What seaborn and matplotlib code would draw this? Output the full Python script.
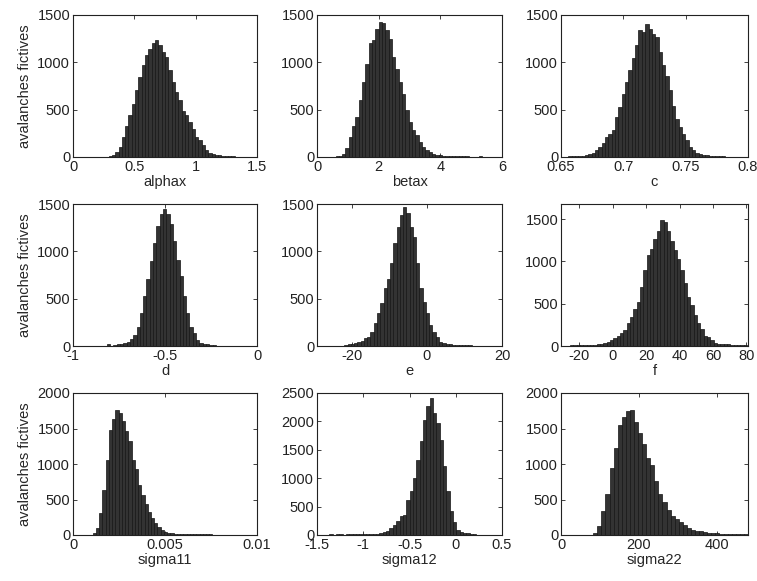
import numpy as np
import pandas as pd
import matplotlib
matplotlib.use("Agg")
import matplotlib.pyplot as plt
import seaborn as sns

# Histogram counts for each simulated parameter (binned values, left to right)
alphax_counts = [7, 20, 50, 105, 210, 325, 440, 565, 705, 845, 970, 1075, 1145, 1200, 1240,
                 1180, 1110, 1055, 915, 790, 685, 600, 490, 440, 370, 300, 210, 175, 125, 70,
                 42, 28, 25, 18, 14, 10, 10, 10, 5, 5, 5]
alphax_range = (0.29, 1.40)

betax_counts = [10, 14, 35, 95, 210, 330, 420, 600, 790, 985, 1205, 1240, 1355, 1425, 1420,
                1340, 1250, 1055, 930, 790, 670, 495, 370, 280, 230, 160, 110, 70, 55, 35,
                25, 18, 10, 10, 7, 14, 14, 14, 14, 7, 3, 3, 3, 14]
betax_range = (0.60, 5.35)

c_counts = [7, 10, 10, 10, 14, 18, 28, 42, 70, 105, 148, 210, 245, 280, 420, 530, 670, 790,
            915, 1050, 1180, 1340, 1320, 1400, 1355, 1295, 1270, 1110, 970, 860, 705, 535,
            405, 315, 245, 175, 105, 70, 42, 28, 20, 18, 14, 10, 10, 7, 7]
c_range = (0.6559, 0.7818)

d_counts = [18, 4, 14, 18, 21, 28, 46, 70, 117, 205, 347, 523, 707, 895, 1090, 1266, 1390,
            1450, 1390, 1285, 1108, 913, 736, 530, 347, 205, 134, 64, 35, 21, 18, 14, 11]
d_range = (-0.8165, -0.223)

e_counts = [11, 18, 21, 28, 39, 53, 81, 99, 151, 239, 345, 451, 609, 704, 873, 1085, 1254,
            1384, 1465, 1409, 1261, 1155, 873, 609, 468, 345, 222, 151, 99, 46, 28, 21, 18,
            14, 11, 11, 11, 7, 7]
e_range = (-22.0, 11.9)

f_counts = [4, 4, 8, 16, 12, 8, 12, 12, 12, 16, 20, 28, 39, 51, 71, 91, 122, 157, 189, 268,
            346, 433, 524, 701, 898, 1075, 1142, 1260, 1362, 1496, 1469, 1362, 1244, 1134,
            1035, 898, 740, 583, 484, 366, 268, 197, 118, 102, 71, 31, 28, 24, 20, 20, 16,
            16, 12, 12, 12]
f_range = (-29.6, 80.4)

sigma11_counts = [24, 94, 306, 635, 1059, 1482, 1633, 1755, 1718, 1600, 1459, 1318, 1059, 927,
                  706, 565, 438, 329, 235, 165, 118, 71, 47, 33, 24, 19, 14, 14, 14, 14, 14,
                  14, 14, 19, 14, 19, 9]
sigma11_range = (0.001075, 0.00758)

sigma12_counts = [12, 6, 12, 12, 6, 12, 12, 12, 12, 12, 18, 12, 12, 18, 23, 35, 47, 76, 123,
                  170, 240, 329, 358, 622, 769, 1003, 1326, 1649, 2030, 2265, 2412, 2148, 1972,
                  1679, 1221, 769, 417, 223, 94, 47, 35, 29, 23, 18]
sigma12_range = (-1.366, 0.222)

sigma22_counts = [5, 28, 123, 335, 571, 948, 1231, 1547, 1656, 1750, 1764, 1585, 1443, 1278,
                  1090, 981, 759, 571, 462, 358, 274, 226, 179, 137, 99, 66, 52, 52, 38, 33,
                  28, 24, 14, 14, 14, 14, 14, 14, 14]
sigma22_range = (72.3, 480.0)

names = ["alphax", "betax", "c", "d", "e", "f", "sigma11", "sigma12", "sigma22"]
counts = [alphax_counts, betax_counts, c_counts, d_counts, e_counts, f_counts,
          sigma11_counts, sigma12_counts, sigma22_counts]
ranges = [alphax_range, betax_range, c_range, d_range, e_range, f_range,
          sigma11_range, sigma12_range, sigma22_range]

# Axis limits and ticks of each panel
xlims = [(0, 1.5), (0, 6), (0.65, 0.8), (-1, 0), (-29.3, 20), (-31, 81),
         (0, 0.01), (-1.5, 0.5), (0, 480)]
xticks = [[0, 0.5, 1, 1.5], [0, 2, 4, 6], [0.65, 0.7, 0.75, 0.8], [-1, -0.5, 0],
          [-20, 0, 20], [-20, 0, 20, 40, 60, 80], [0, 0.005, 0.01],
          [-1.5, -1, -0.5, 0, 0.5], [0, 200, 400]]
xticklabels = [["0", "0.5", "1", "1.5"], ["0", "2", "4", "6"],
               ["0.65", "0.7", "0.75", "0.8"], ["-1", "-0.5", "0"],
               ["-20", "0", "20"], ["-20", "0", "20", "40", "60", "80"],
               ["0", "0.005", "0.01"], ["-1.5", "-1", "-0.5", "0", "0.5"],
               ["0", "200", "400"]]
ylims = [1500, 1500, 1500, 1500, 1500, 1680, 2000, 2500, 2000]
yticks = [[0, 500, 1000, 1500]] * 6 + [[0, 500, 1000, 1500, 2000],
                                       [0, 500, 1000, 1500, 2000, 2500],
                                       [0, 500, 1000, 1500, 2000]]

sns.set_style("ticks")
plt.rcParams["font.family"] = ["Liberation Sans", "DejaVu Sans"]
plt.rcParams["font.size"] = 10.5

W, H = 757, 581
fig = plt.figure(figsize=(W / 100, H / 100), dpi=100)

col_px = [(73, 257), (317, 502), (561, 748)]
row_px = [(15, 157), (204, 346), (393, 535)]

for i, name in enumerate(names):
    r, c = divmod(i, 3)
    x0, x1 = col_px[c]
    y0, y1 = row_px[r]
    ax = fig.add_axes([x0 / W, 1 - y1 / H, (x1 - x0) / W, (y1 - y0) / H])

    lo, hi = ranges[i]
    edges = np.linspace(lo, hi, len(counts[i]) + 1)
    df = pd.DataFrame({"value": 0.5 * (edges[:-1] + edges[1:]),
                       "count": np.asarray(counts[i], dtype=float)})
    sns.histplot(data=df, x="value", weights="count", bins=edges.tolist(), ax=ax,
                 color="#333333", edgecolor="#151515", linewidth=0.5, alpha=1.0)

    ax.set_xlim(*xlims[i])
    ax.set_ylim(0, ylims[i])
    ax.set_xticks(xticks[i])
    ax.set_xticklabels(xticklabels[i])
    ax.set_yticks(yticks[i])
    ax.set_yticklabels([str(v) for v in yticks[i]])
    ax.tick_params(direction="in", length=3, width=0.6, top=True, right=True,
                   labelsize=10.5, colors="#222222", pad=2)
    for s in ax.spines.values():
        s.set_linewidth(0.8)
        s.set_color("#222222")
    ax.set_xlabel(name, fontsize=10.5, labelpad=1)
    if c == 0:
        ax.set_ylabel("avalanches fictives", fontsize=10.5, labelpad=4)
    else:
        ax.set_ylabel("")

fig.savefig("out.png", dpi=100, facecolor="white")
